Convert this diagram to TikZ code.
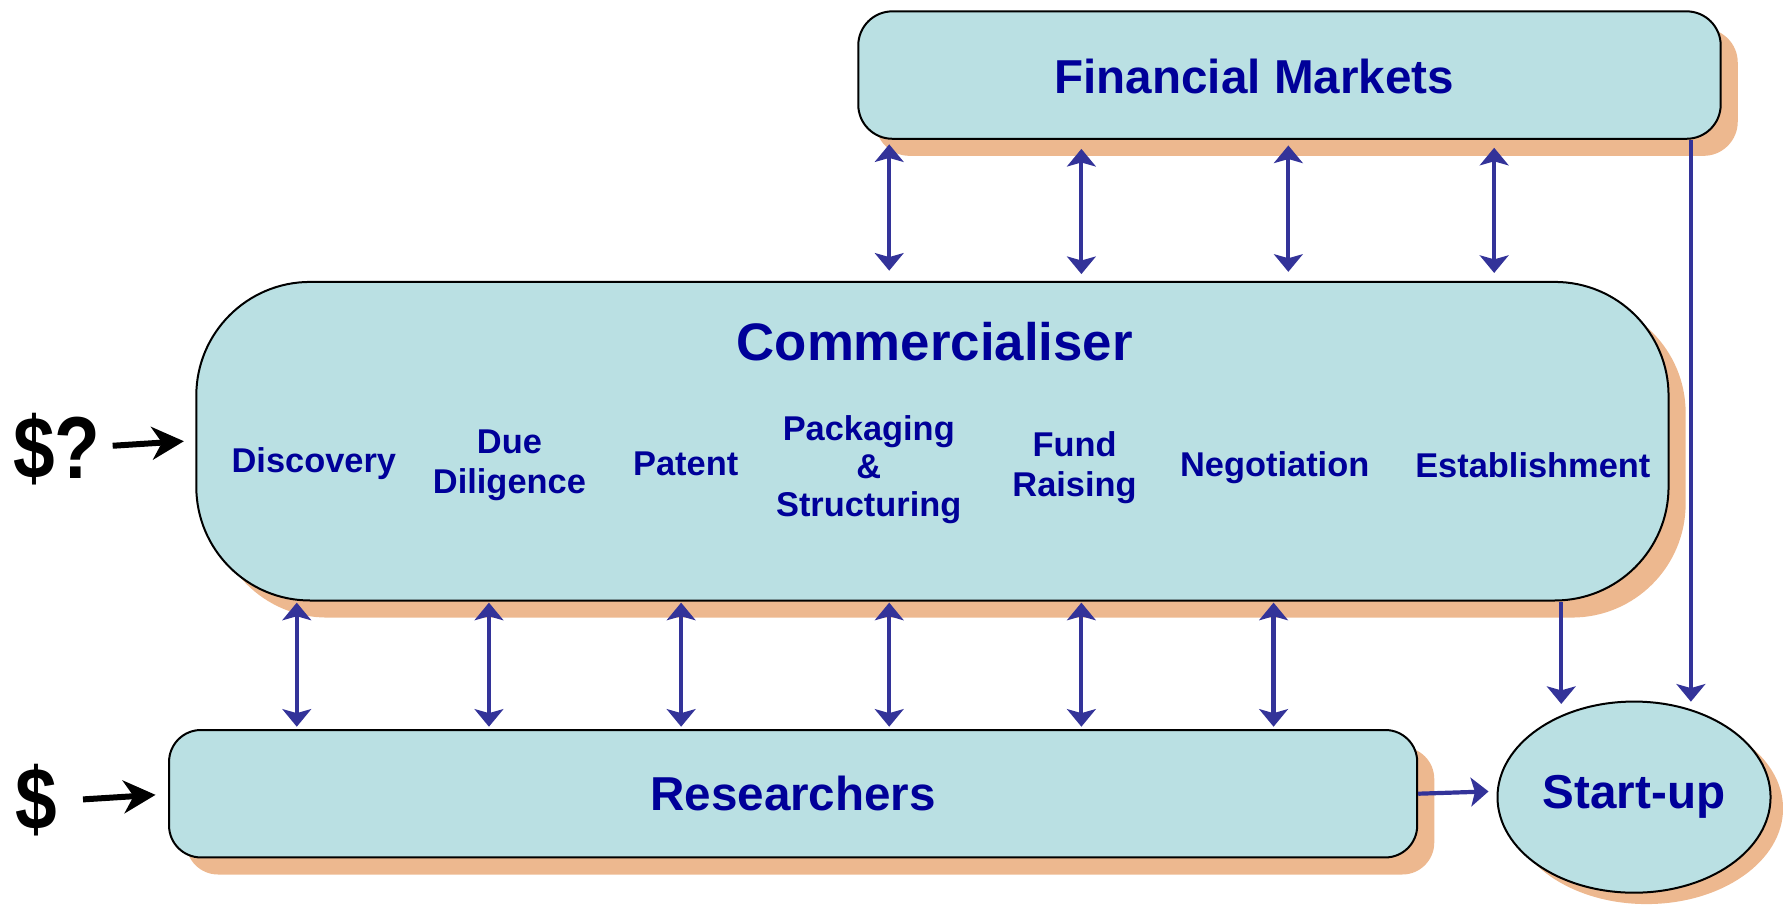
\documentclass[tikz,border=0pt]{standalone}
\usepackage{fontspec}
\setmainfont{Liberation Sans}
\usetikzlibrary{shadows,calc,arrows.meta,shapes.geometric}
\definecolor{boxfill}{HTML}{BAE0E3}
\definecolor{shadecol}{HTML}{EDB88F}
\definecolor{txtblue}{HTML}{000099}
\definecolor{arrowblue}{HTML}{333399}
\newcommand{\moneytext}[1]{\scalebox{0.85}[1]{#1}}
\begin{document}
\begin{tikzpicture}[x=0.01cm,y=-0.01cm,
  box/.style={draw=black, line width=0.5pt, fill=boxfill, inner sep=0pt,
    general shadow={fill=shadecol, shadow xshift=0.15cm, shadow yshift=-0.15cm}},
  ellbox/.style={ellipse, draw=black, line width=0.5pt, fill=boxfill, inner sep=0pt,
    general shadow={fill=shadecol, shadow xshift=0.11cm, shadow yshift=-0.10cm}},
  big/.style={font=\bfseries\fontsize{11.9}{14}\selectfont, text=txtblue},
  ttl/.style={font=\bfseries\fontsize{13.2}{15}\selectfont, text=txtblue, inner sep=0pt},
  lab/.style={font=\bfseries\fontsize{8.6}{10}\selectfont, text=txtblue, align=center, inner sep=0pt},
  money/.style={font=\bfseries\fontsize{22}{24}\selectfont, text=black, inner sep=0pt},
  bi/.style={draw=arrowblue, line width=1.05pt,
    {Stealth[length=4.4pt,width=7.2pt,inset=1pt]}-{Stealth[length=4.4pt,width=7.2pt,inset=1pt]}},
  one/.style={draw=arrowblue, line width=1.05pt, -{Stealth[length=4.4pt,width=7.2pt,inset=1pt]}},
  blk/.style={draw=black, line width=1.5pt, -{Stealth[length=8pt,width=8.2pt,inset=2.5pt]}}
]
\useasboundingbox (0,0) rectangle (1568,796);

% boxes
\node[box, rounded corners=0.30cm, minimum width=7.58cm, minimum height=1.12cm] (fm) at (1134,66) {};
\node[big, inner sep=0pt] (fmt) at (1103,67) {Financial Markets};

\node[box, rounded corners=1.0cm, minimum width=12.94cm, minimum height=2.80cm] (cm) at (820,388) {};
\node[ttl] (cmt) at (822,300) {Commercialiser};

\node[box, rounded corners=0.28cm, minimum width=10.97cm, minimum height=1.12cm, big] (res) at (697.5,698) {Researchers};

\node[ellbox, minimum width=2.40cm, minimum height=1.68cm, big] (su) at (1437,701) {Start-up};

% activity labels
\node[lab] (l1) at (276,408) {Discovery};
\node[lab] (l2) at (448,409) {Due\\Diligence};
\node[lab] (l3) at (603,408) {Patent};
\node[lab, font=\bfseries\fontsize{8.6}{9.4}\selectfont] (l4) at (764,413) {Packaging\\\&\\Structuring};
\node[lab] (l5) at (945,411) {Fund\\Raising};
\node[lab] (l6) at (1121,411) {Negotiation};
\node[lab] (l7) at (1348,409) {Establishment};

% money
\node[money] (q) at (50,395) {\moneytext{\$?}};
\node[money] (d) at (32,704) {\moneytext{\$}};

% arrows financial markets <-> commercialiser
\draw[bi] ($(fm.south)+(-352,4)$) -- ($(cm.north)+(-38,-9)$);
\draw[bi] ($(fm.south)+(-183,8)$) -- ($(cm.north)+(131,-6)$);
\draw[bi] ($(fm.south)+(-1,5)$) -- ($(cm.north)+(313,-8)$);
\draw[bi] ($(fm.south)+(180,7)$) -- ($(cm.north)+(494,-7)$);

% arrows commercialiser <-> researchers
\draw[bi] ($(cm.south)+(-559,1)$) -- ($(res.north)+(-436.5,-2)$);
\draw[bi] ($(cm.south)+(-390,1)$) -- ($(res.north)+(-267.5,-2)$);
\draw[bi] ($(cm.south)+(-221,1)$) -- ($(res.north)+(-98.5,-2)$);
\draw[bi] ($(cm.south)+(-38,1)$) -- ($(res.north)+(84.5,-2)$);
\draw[bi] ($(cm.south)+(131,1)$) -- ($(res.north)+(253.5,-2)$);
\draw[bi] ($(cm.south)+(300,1)$) -- ($(res.north)+(422.5,-2)$);

% arrows to start-up
\draw[one] ($(cm.south)+(553,0)$) -- ($(su.north)+(-64,3)$);
\draw[one] ($(fm.south)+(353,0)$) -- ($(su.north)+(50,1)$);
\draw[one] (res.east) -- ($(su.west)+(-7,-5)$);

% money arrows
\draw[blk] ($(q.east)+(10,-3)$) -- ($(cm.west)+(-10,0)$);
\draw[blk] ($(d.east)+(22,-1)$) -- ($(res.west)+(-11,1)$);
\end{tikzpicture}
\end{document}
